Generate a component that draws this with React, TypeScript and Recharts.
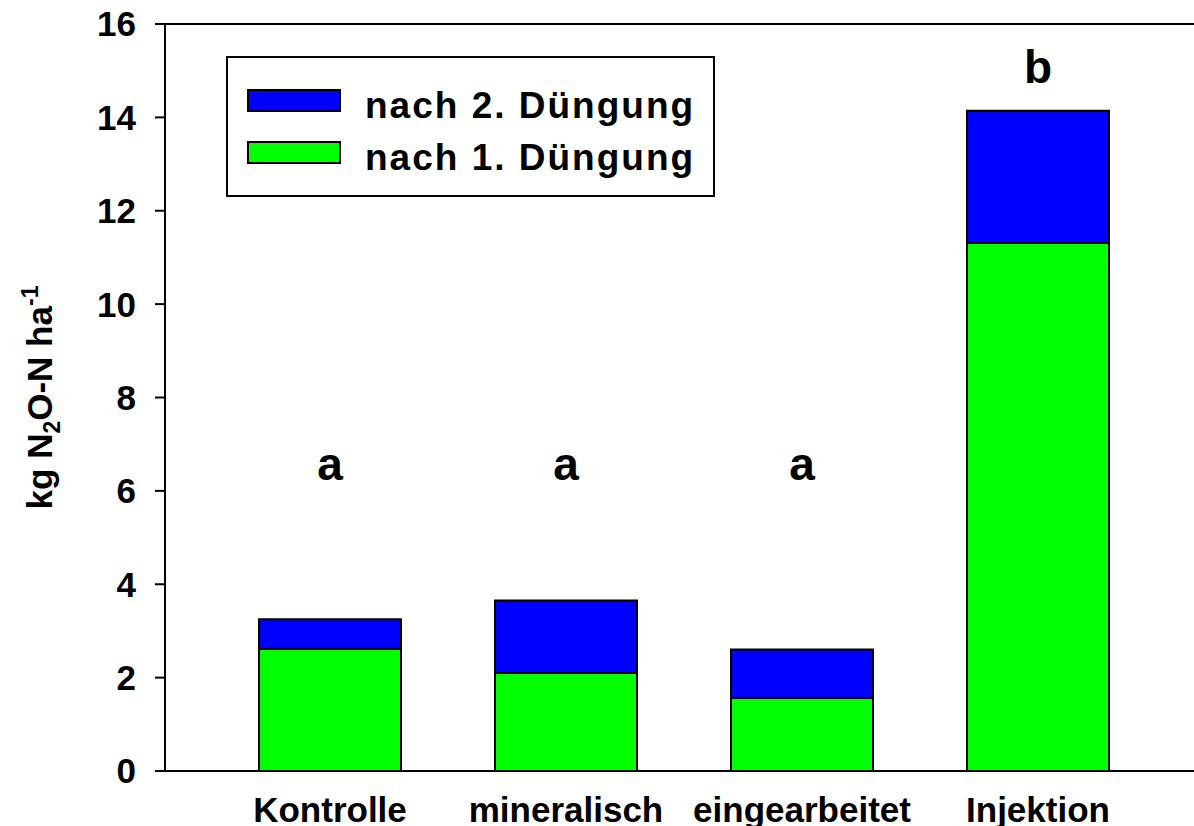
import React from "react";
import { ComposedChart, Bar, Scatter, XAxis, YAxis, ReferenceLine, Legend } from "recharts";

const FONT = '"Liberation Sans", Arial, Helvetica, sans-serif';

const categories = ["Kontrolle", "mineralisch", "eingearbeitet", "Injektion"];
const afterFirst = [2.62, 2.1, 1.57, 11.31];
const afterSecond = [0.63, 1.55, 1.03, 2.83];
const letters = ["a", "a", "a", "b"];
const letterHeights = [6.23, 6.23, 6.23, 14.73];
const yTicks = [0, 2, 4, 6, 8, 10, 12, 14, 16];

const data = categories.map((name, i) => ({
  name,
  first: afterFirst[i],
  second: afterSecond[i],
  letter: letters[i],
  letterY: letterHeights[i],
}));

function LegendBox() {
  return (
    <svg width={490} height={142} style={{ display: "block" }}>
      <rect x={1} y={1} width={487} height={139} fill="#fff" stroke="#000" strokeWidth={2} />
      <rect x={22} y={34} width={92} height={21} fill="#0000ff" stroke="#000" strokeWidth={2} />
      <rect x={22} y={86} width={92} height={21} fill="#00ff00" stroke="#000" strokeWidth={2} />
      <text x={139} y={62} fontFamily={FONT} fontWeight="bold" fontSize={37} letterSpacing={2} fill="#000">nach 2. Düngung</text>
      <text x={139} y={114} fontFamily={FONT} fontWeight="bold" fontSize={37} letterSpacing={2} fill="#000">nach 1. Düngung</text>
    </svg>
  );
}

function YTitle(props: any) {
  const vb = props.viewBox || { x: 0, y: 24, width: 165, height: 747 };
  const cx = 52;
  const cy = vb.y + vb.height / 2;
  return (
    <text
      x={cx}
      y={cy}
      transform={`rotate(-90, ${cx}, ${cy})`}
      textAnchor="middle"
      fontFamily={FONT}
      fontWeight="bold"
      fontSize={35}
      fill="#000"
    >
      kg N
      <tspan fontSize={23} dy={8}>2</tspan>
      <tspan dy={-8}>O-N ha</tspan>
      <tspan fontSize={23} dy={-14}>-1</tspan>
    </text>
  );
}

function Letter(props: any) {
  if (props.cx == null || props.cy == null) return null;
  return (
    <text x={props.cx} y={props.cy} textAnchor="middle" fontFamily={FONT} fontWeight="bold" fontSize={46} fill="#000">
      {props.payload.letter}
    </text>
  );
}

export default function App() {
  return (
    <div style={{ position: "absolute", left: 0, top: 0, background: "#fff" }}>
      <ComposedChart width={1194} height={826} data={data} margin={{ top: 24, right: 0, bottom: 0, left: 0 }}>
        <XAxis
          dataKey="name"
          height={55}
          padding={{ left: 47, right: 38 }}
          axisLine={{ stroke: "#000", strokeWidth: 2 }}
          tickLine={false}
          tickSize={0}
          tickMargin={26}
          tick={{ fill: "#000", fontSize: 35, fontWeight: "bold", fontFamily: FONT }}
        />
        <YAxis
          width={165}
          domain={[0, 16]}
          ticks={yTicks}
          interval={0}
          axisLine={{ stroke: "#000", strokeWidth: 2 }}
          tickLine={{ stroke: "#000", strokeWidth: 2 }}
          tickSize={10}
          tickMargin={19}
          tick={{ fill: "#000", fontSize: 35, fontWeight: "bold", fontFamily: FONT }}
          label={<YTitle />}
        />
        <ReferenceLine y={16} stroke="#000" strokeWidth={2} />
        <Legend
          layout="vertical"
          align="center"
          verticalAlign="middle"
          wrapperStyle={{ position: "absolute", left: 226, top: 56, width: 490, height: 142 }}
          content={() => <LegendBox />}
        />
        <Bar dataKey="first" name="nach 1. Düngung" stackId="s" fill="#00ff00" stroke="#000" strokeWidth={2} barSize={142} isAnimationActive={false} />
        <Bar dataKey="second" name="nach 2. Düngung" stackId="s" fill="#0000ff" stroke="#000" strokeWidth={2} barSize={142} isAnimationActive={false} />
        <Scatter dataKey="letterY" legendType="none" shape={<Letter />} isAnimationActive={false} />
      </ComposedChart>
    </div>
  );
}
